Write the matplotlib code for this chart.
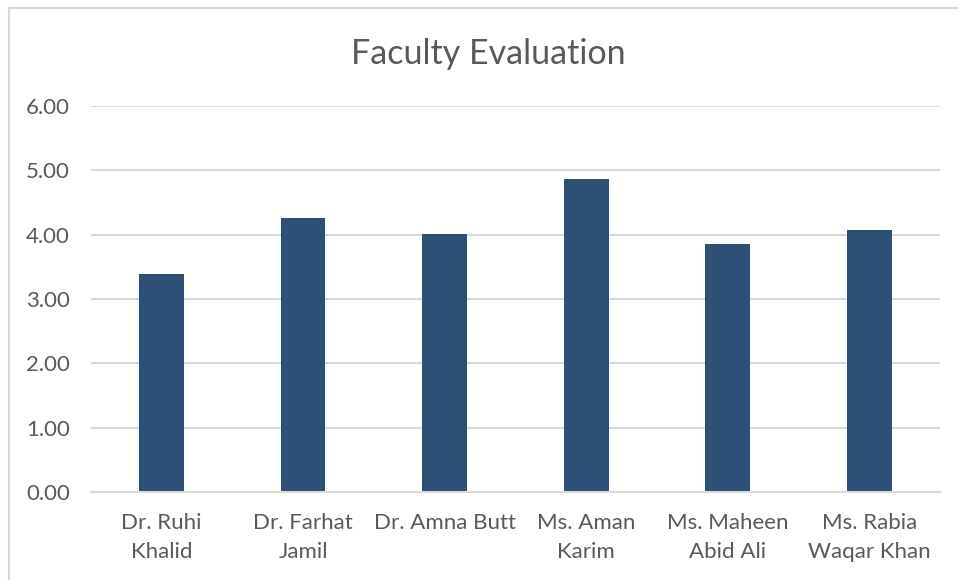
import matplotlib
matplotlib.use("Agg")
import matplotlib.pyplot as plt
from matplotlib.lines import Line2D

categories = ["Dr. Ruhi\nKhalid", "Dr. Farhat\nJamil", "Dr. Amna Butt",
              "Ms. Aman\nKarim", "Ms. Maheen\nAbid Ali", "Ms. Rabia\nWaqar Khan"]
values = [3.39, 4.26, 4.01, 4.87, 3.86, 4.07]
yticks = [0, 1, 2, 3, 4, 5, 6]

plt.rcParams['font.family'] = ['Lato', 'DejaVu Sans']
text_color = '#595959'
grid_color = '#d9d9d9'
bar_color = '#2e4f76'

fig = plt.figure(figsize=(9.58, 5.8), dpi=100)
ax = fig.add_axes([90.75/958, 88/580, (940-90.75)/958, (492-106)/580])

x = list(range(len(categories)))
ax.bar(x, values, width=0.316, color=bar_color, zorder=3)
ax.set_xlim(-0.5, len(categories) - 0.5)
ax.set_ylim(0, 6)
ax.set_yticks(yticks)
ax.set_yticklabels([f"{v:.2f}" for v in yticks])
ax.set_xticks(x)
ax.set_xticklabels(categories, linespacing=1.55)
ax.tick_params(axis='both', length=0, labelsize=16, colors=text_color)
ax.tick_params(axis='y', pad=15)
ax.tick_params(axis='x', pad=15)
ax.yaxis.grid(True, color=grid_color, linewidth=1.5, zorder=0)
for s in ['top', 'right', 'left']:
    ax.spines[s].set_visible(False)
ax.spines['bottom'].set_color(grid_color)
ax.spines['bottom'].set_linewidth(1.5)
ax.spines['bottom'].set_zorder(4)

fig.text(488/958, 1 - 54/580, "Faculty Evaluation", ha='center', va='center',
         fontsize=24.5, color=text_color)

# chart border (top and left visible)
fig.add_artist(Line2D([8.5/958, 8.5/958], [0, 1 - 7.5/580], transform=fig.transFigure,
                      color=grid_color, linewidth=1.5))
fig.add_artist(Line2D([8.5/958, 1], [1 - 7.5/580, 1 - 7.5/580], transform=fig.transFigure,
                      color=grid_color, linewidth=1.5))

fig.savefig("out.png", dpi=100, facecolor='white')
